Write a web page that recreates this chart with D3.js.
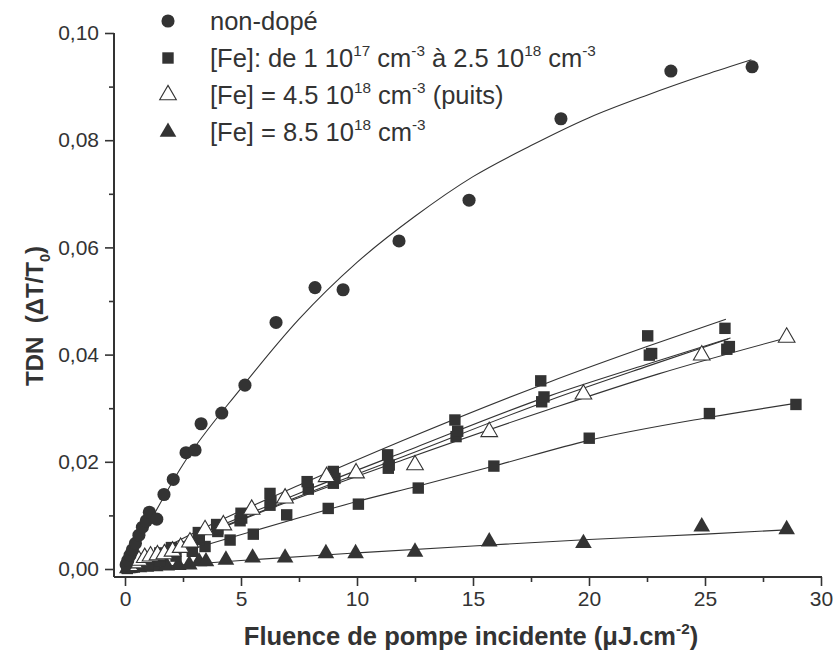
<!DOCTYPE html>
<html>
<head>
<meta charset="utf-8">
<script src="https://cdn.jsdelivr.net/npm/d3@7"></script>
<style>
  html, body { margin: 0; padding: 0; background: #ffffff; }
  svg { display: block; }
  text { font-family: "Liberation Sans", Arial, Helvetica, sans-serif; fill: #333333; white-space: pre; }
</style>
</head>
<body>
<svg id="chart" width="835" height="664"></svg>
<script>
// ---------------- DATA ----------------
const xTicks = [0, 5, 10, 15, 20, 25, 30];
const xMinorTicks = [2.5, 7.5, 12.5, 17.5, 22.5, 27.5];
const yTicks = [0, 0.02, 0.04, 0.06, 0.08, 0.10];
const yMinorTicks = [0.01, 0.03, 0.05, 0.07, 0.09];

const xTitle = "Fluence de pompe incidente (μJ.cm^{-2})";
const yTitle = "TDN  (ΔT/T_{0})";

const legendLabels = [
  "non-dopé",
  "[Fe]: de 1 10^{17} cm^{-3} à 2.5 10^{18} cm^{-3}",
  "[Fe] = 4.5 10^{18} cm^{-3} (puits)",
  "[Fe] = 8.5 10^{18} cm^{-3}"
];
const legendSymbols = ["circle", "square", "triangleOpen", "triangle"];

// non-dopé (circles)
const nonDope = [
  [0.05,0.0008],[0.12,0.0016],[0.22,0.0026],[0.32,0.0036],[0.45,0.0048],[0.60,0.0063],
  [0.75,0.0078],[0.92,0.0090],[1.05,0.0106],[1.37,0.0093],[1.68,0.0139],[2.08,0.0167],
  [2.63,0.0217],[3.02,0.0222],[3.28,0.0271],[4.17,0.0291],[5.17,0.0343],[6.51,0.0460],
  [8.19,0.0525],[9.40,0.0521],[11.81,0.0612],[14.83,0.0688],[18.79,0.0840],[23.53,0.0929],
  [27.03,0.0937]
];
// [Fe] 1e17 .. 2.5e18 (squares) – several samples
const squaresA = [
  [0.1,0.0004],[0.3,0.0008],[0.6,0.0014],[1.0,0.0022],[1.5,0.0030],[2.0,0.0040],[3.16,0.0068],
  [3.95,0.0083],[5.0,0.0104],[6.25,0.0141],[7.85,0.0163],[8.98,0.0182],[11.32,0.0213],
  [14.22,0.0278],[17.92,0.0351],[22.53,0.0435],[25.86,0.0449]
];
const squaresB = [
  [0.1,0.0003],[0.3,0.0007],[0.6,0.0012],[1.0,0.0019],[1.5,0.0027],[2.0,0.0036],[3.2,0.0060],
  [4.0,0.0075],[5.03,0.0095],[6.29,0.0126],[7.9,0.0149],[9.05,0.0169],[11.39,0.0194],
  [14.34,0.0257],[18.06,0.0321],[22.7,0.0402],[26.05,0.0415]
];
const squaresC = [
  [0.1,0.0002],[0.3,0.0006],[0.6,0.0011],[1.0,0.0017],[1.5,0.0025],[2.0,0.0033],[3.2,0.0055],
  [4.0,0.0070],[4.96,0.0090],[6.25,0.0119],[8.98,0.0160],[11.35,0.0188],[14.27,0.0247],
  [17.96,0.0312],[22.6,0.0399],[25.94,0.0410]
];
const squaresD = [
  [0.1,0.0001],[0.3,0.0003],[0.6,0.0006],[1.0,0.0010],[1.5,0.0016],[2.2,0.0024],[2.9,0.0033],
  [3.45,0.0042],[4.53,0.0054],[5.53,0.0065],[6.97,0.0101],[8.76,0.0113],[10.06,0.0121],
  [12.64,0.0151],[15.9,0.0192],[20.01,0.0244],[25.19,0.0290],[28.92,0.0307]
];
// [Fe] = 4.5e18 (puits) – open triangles
const trianglesOpen = [
  [0.2,0.0006],[0.4,0.0011],[0.6,0.0016],[0.85,0.0021],[1.1,0.0024],[1.4,0.0026],[1.7,0.0028],
  [2.05,0.0033],[2.4,0.0040],[2.8,0.0050],[3.45,0.0073],[4.24,0.0082],[5.46,0.0111],
  [6.9,0.0132],[8.69,0.0172],[9.96,0.0179],[12.5,0.0194],[15.7,0.0256],[19.76,0.0326],
  [24.86,0.0399],[28.52,0.0432]
];
// [Fe] = 8.5e18 – filled triangles
const trianglesFilled = [
  [0.1,0.0001],[0.3,0.0002],[0.6,0.0003],[0.9,0.0004],[1.3,0.0005],[1.8,0.0006],[2.3,0.0007],
  [2.77,0.0008],[3.19,0.0014],[3.49,0.0014],[4.35,0.0017],[5.5,0.0021],[6.9,0.0021],
  [8.66,0.0029],[9.94,0.0029],[12.5,0.0032],[15.7,0.0051],[19.76,0.0048],[24.86,0.0079],
  [28.52,0.0074]
];

// fitted curves
const fitNonDope = [[0,0],[1,0.0082],[2.5,0.0195],[5,0.0337],[7.5,0.0466],[10,0.0572],[12.5,0.0658],
  [15,0.0732],[17.5,0.0790],[20,0.0842],[22.5,0.0884],[25,0.0922],[27,0.0950]];
const fitA = [[0,0],[3,0.0068],[7.54,0.0157],[12,0.0240],[18.3,0.0349],[22.5,0.0415],[25.9,0.0466]];
const fitB = [[0,0],[3,0.0060],[7.54,0.0142],[12,0.0218],[18.3,0.0323],[22.5,0.0382],[26.1,0.0431]];
const fitC = [[0,0],[3,0.0057],[7.54,0.0136],[12,0.0210],[18.3,0.0315],[22.5,0.0378],[26.0,0.0429]];
const fitD = [[0,0],[4.5,0.0058],[7.54,0.0096],[10,0.0126],[12.64,0.0155],[15.9,0.0192],[20,0.0240],
  [25.2,0.0283],[28.9,0.0309]];
const fitOpen = [[0,0],[3,0.0056],[7.54,0.0134],[12,0.0204],[18.3,0.0298],[23,0.0364],[28.5,0.0431]];
const fitFilled = [[0,0],[5,0.0016],[10,0.0030],[15,0.0043],[20,0.0055],[25,0.0065],[28.5,0.0073]];

// ---------------- DRAW ----------------
const ink = "#333333";
const svg = d3.select("#chart");

const x = d3.scaleLinear().domain([0, 30]).range([125, 821]);
const y = d3.scaleLinear().domain([0, 0.10]).range([569, 33]);

const axisLeftX = 114, axisBottomY = 577;
const commaFmt = d3.formatLocale({decimal: ",", thousands: " ", grouping: [3], currency: ["", ""]}).format(".2f");

function rich(textSel, str, size) {
  const re = /\^\{([^}]*)\}|_\{([^}]*)\}|[^^_]+/g;
  let m, shift = 0;
  while ((m = re.exec(str)) !== null) {
    if (m[1] !== undefined || m[2] !== undefined) {
      const sup = m[1] !== undefined;
      const d = sup ? -0.42 * size : 0.28 * size;
      textSel.append("tspan").attr("dy", d - shift).attr("font-size", 0.6 * size).text(sup ? m[1] : m[2]);
      shift = d;
    } else {
      textSel.append("tspan").attr("dy", -shift).text(m[0]);
      shift = 0;
    }
  }
}

// axes lines
const axisG = svg.append("g");
axisG.append("line").attr("x1", axisLeftX).attr("x2", axisLeftX).attr("y1", y(0.10)).attr("y2", axisBottomY)
  .attr("stroke", ink).attr("stroke-width", 2);
axisG.append("line").attr("x1", axisLeftX).attr("x2", x(30) + 1).attr("y1", axisBottomY).attr("y2", axisBottomY)
  .attr("stroke", ink).attr("stroke-width", 2);

// x axis ticks
const xAxisMajor = d3.axisBottom(x).tickValues(xTicks).tickSize(9).tickPadding(5).tickFormat(d3.format("d"));
const xAxisMinor = d3.axisBottom(x).tickValues(xMinorTicks).tickSize(5).tickFormat("");
const gxMinor = svg.append("g").attr("transform", `translate(0,${axisBottomY})`).call(xAxisMinor);
const gx = svg.append("g").attr("transform", `translate(0,${axisBottomY})`).call(xAxisMajor);
[gx, gxMinor].forEach(g => {
  g.select(".domain").remove();
  g.selectAll("line").attr("stroke", ink).attr("stroke-width", 1.6);
});
gx.selectAll("text").attr("font-size", 21).attr("fill", ink).style("font-family", "'Liberation Sans', Arial, sans-serif");

// y axis ticks
const yAxisMajor = d3.axisLeft(y).tickValues(yTicks).tickSize(9).tickPadding(6).tickFormat(commaFmt);
const yAxisMinor = d3.axisLeft(y).tickValues(yMinorTicks).tickSize(5).tickFormat("");
const gyMinor = svg.append("g").attr("transform", `translate(${axisLeftX},0)`).call(yAxisMinor);
const gy = svg.append("g").attr("transform", `translate(${axisLeftX},0)`).call(yAxisMajor);
[gy, gyMinor].forEach(g => {
  g.select(".domain").remove();
  g.selectAll("line").attr("stroke", ink).attr("stroke-width", 1.6);
});
gy.selectAll("text").attr("font-size", 21).attr("fill", ink).style("font-family", "'Liberation Sans', Arial, sans-serif");

// titles
const xt = svg.append("text").attr("x", 471).attr("y", 645).attr("text-anchor", "middle")
  .attr("font-size", 25.5).attr("font-weight", "bold");
rich(xt, xTitle, 25.5);
const yt = svg.append("text").attr("transform", "translate(43,316) rotate(-90)").attr("text-anchor", "middle")
  .attr("font-size", 24).attr("font-weight", "bold");
rich(yt, yTitle, 24);

// fit lines
const line = d3.line().x(d => x(d[0])).y(d => y(d[1])).curve(d3.curveMonotoneX);
const fits = [fitNonDope, fitA, fitB, fitC, fitD, fitOpen, fitFilled];
svg.append("g").selectAll("path").data(fits).join("path")
  .attr("d", line).attr("fill", "none").attr("stroke", ink).attr("stroke-width", 1.1);

// markers
const symSize = {circle: 135, square: 130, triangle: 120, triangleOpen: 120};
function symbolPath(kind) {
  const t = kind === "circle" ? d3.symbolCircle : kind === "square" ? d3.symbolSquare : d3.symbolTriangle;
  return d3.symbol().type(t).size(symSize[kind])();
}
function drawMarkers(data, kind) {
  svg.append("g").selectAll("path").data(data).join("path")
    .attr("d", symbolPath(kind))
    .attr("transform", d => `translate(${x(d[0])},${y(d[1])})`)
    .attr("fill", kind === "triangleOpen" ? "#ffffff" : ink)
    .attr("stroke", ink)
    .attr("stroke-width", kind === "triangleOpen" ? 1.1 : 0);
}
drawMarkers(trianglesFilled, "triangle");
drawMarkers(squaresD, "square");
drawMarkers(squaresC, "square");
drawMarkers(squaresB, "square");
drawMarkers(squaresA, "square");
drawMarkers(trianglesOpen, "triangleOpen");
drawMarkers(nonDope, "circle");

// legend
const legendY = [21, 58, 95, 132];
const lg = svg.append("g");
legendLabels.forEach((lab, i) => {
  const kind = legendSymbols[i];
  lg.append("path").attr("d", symbolPath(kind))
    .attr("transform", `translate(168,${legendY[i]})`)
    .attr("fill", kind === "triangleOpen" ? "#ffffff" : ink)
    .attr("stroke", ink).attr("stroke-width", kind === "triangleOpen" ? 1.1 : 0);
  const t = lg.append("text").attr("x", 210).attr("y", legendY[i] + 8.5).attr("font-size", 25.5);
  rich(t, lab, 25.5);
});
</script>
</body>
</html>
